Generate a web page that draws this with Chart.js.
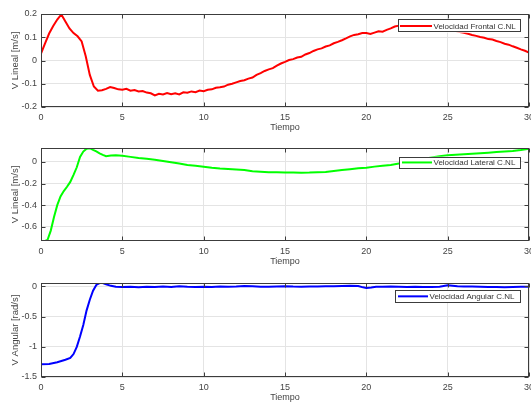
<!DOCTYPE html>
<html><head><meta charset="utf-8">
<script src="https://cdn.jsdelivr.net/npm/chart.js@4"></script>
<style>
html,body{margin:0;padding:0;background:#fff;overflow:hidden}
#wrap{position:relative;width:531px;height:405px;background:#fff}
canvas{position:absolute;left:0}
</style></head><body>
<div id="wrap">
<canvas id="c1" style="top:0px" width="531" height="135"></canvas>
<canvas id="c2" style="top:134px" width="531" height="135"></canvas>
<canvas id="c3" style="top:269px" width="531" height="136"></canvas>
</div>
<script>
const timeFrontal = [0,0.25,0.5,0.75,1,1.25,1.5,1.75,2,2.25,2.5,2.75,3,3.25,3.5,3.75,4,4.25,4.5,4.75,5,5.25,5.5,5.75,6,6.25,6.5,6.75,7,7.25,7.5,7.75,8,8.25,8.5,8.75,9,9.25,9.5,9.75,10,10.25,10.5,10.75,11,11.25,11.5,11.75,12,12.25,12.5,12.75,13,13.25,13.5,13.75,14,14.25,14.5,14.75,15,15.25,15.5,15.75,16,16.25,16.5,16.75,17,17.25,17.5,17.75,18,18.25,18.5,18.75,19,19.25,19.5,19.75,20,20.25,20.5,20.75,21,21.25,21.5,21.75,22,22.25,22.5,22.75,23,23.25,23.5,23.75,24,24.25,24.5,24.75,25,25.25,25.5,25.75,26,26.25,26.5,26.75,27,27.25,27.5,27.75,28,28.25,28.5,28.75,29,29.25,29.5,29.75,30];
const velFrontal = [0.030,0.074,0.116,0.148,0.176,0.198,0.168,0.138,0.118,0.104,0.082,0.018,-0.062,-0.112,-0.130,-0.128,-0.122,-0.114,-0.118,-0.124,-0.126,-0.122,-0.130,-0.127,-0.133,-0.131,-0.138,-0.141,-0.150,-0.143,-0.146,-0.140,-0.145,-0.141,-0.146,-0.137,-0.139,-0.133,-0.136,-0.129,-0.132,-0.126,-0.124,-0.117,-0.115,-0.112,-0.104,-0.100,-0.094,-0.088,-0.085,-0.078,-0.073,-0.062,-0.054,-0.045,-0.038,-0.033,-0.022,-0.013,-0.006,0.002,0.006,0.013,0.016,0.026,0.032,0.041,0.048,0.052,0.060,0.065,0.074,0.080,0.087,0.095,0.104,0.110,0.113,0.118,0.118,0.114,0.120,0.126,0.124,0.132,0.138,0.146,0.150,0.154,0.158,0.160,0.162,0.161,0.164,0.162,0.160,0.157,0.152,0.146,0.140,0.133,0.127,0.123,0.119,0.115,0.110,0.106,0.101,0.098,0.092,0.090,0.084,0.079,0.072,0.068,0.061,0.055,0.048,0.042,0.034];

const timeLateral = [0,0.25,0.4,0.6,0.8,1,1.2,1.4,1.6,1.8,2,2.2,2.4,2.6,2.8,3,3.2,3.4,3.6,3.8,4,4.3,4.6,5,5.5,6,6.5,7,7.5,8,8.5,9,9.5,10,10.5,11,11.5,12,12.5,13,13.5,14,14.5,15,15.5,16,16.5,17,17.5,18,18.5,19,19.5,20,20.5,21,21.5,22,22.5,23,23.5,24,24.5,25,25.5,26,26.5,27,27.5,28,28.5,29,29.5,30];
const velLateral = [-0.730,-0.730,-0.722,-0.635,-0.510,-0.400,-0.320,-0.270,-0.230,-0.185,-0.120,-0.050,0.045,0.095,0.122,0.126,0.110,0.096,0.078,0.064,0.052,0.058,0.060,0.056,0.046,0.035,0.028,0.020,0.008,-0.004,-0.016,-0.030,-0.036,-0.045,-0.055,-0.062,-0.066,-0.071,-0.076,-0.086,-0.092,-0.097,-0.097,-0.098,-0.099,-0.100,-0.099,-0.096,-0.093,-0.084,-0.076,-0.068,-0.060,-0.055,-0.044,-0.036,-0.028,-0.016,-0.005,0.012,0.026,0.040,0.052,0.060,0.066,0.070,0.075,0.080,0.085,0.090,0.095,0.101,0.110,0.122];

const timeAngular = [0,0.5,1,1.5,1.8,2,2.2,2.4,2.6,2.8,3,3.2,3.4,3.6,3.8,4,4.3,4.6,5,5.5,6,6.5,7,7.5,8,8.5,9,9.5,10,10.5,11,11.5,12,12.5,13,13.5,14,14.5,15,15.5,16,16.5,17,17.5,18,18.5,19,19.5,19.8,20,20.3,20.6,21,21.5,22,22.5,23,23.5,24,24.5,25,25.3,25.6,26,26.5,27,27.5,28,28.5,29,29.5,30];
const velAngular = [-1.290,-1.285,-1.255,-1.215,-1.185,-1.120,-1.000,-0.830,-0.640,-0.400,-0.220,-0.070,0.025,0.055,0.055,0.035,0.010,-0.005,-0.010,-0.004,-0.012,-0.006,-0.010,-0.003,-0.008,0.002,-0.006,-0.010,-0.004,-0.008,0.000,-0.006,-0.002,0.008,0.004,-0.004,-0.006,0.000,0.004,-0.002,-0.004,0.000,-0.002,0.004,0.002,0.006,0.010,0.006,-0.015,-0.025,-0.018,-0.006,-0.004,0.000,-0.004,-0.008,-0.006,-0.010,-0.008,-0.004,0.018,0.012,0.004,0.000,-0.002,-0.006,-0.010,-0.008,-0.012,-0.010,-0.006,-0.004];

const xTicks = [0,5,10,15,20,25,30];
const yTicksFrontal = [-0.2,-0.1,0,0.1,0.2];
const yTicksLateral = [-0.6,-0.4,-0.2,0];
const yTicksAngular = [-1.5,-1,-0.5,0];
const seriesLabels = ['Velocidad Frontal C.NL','Velocidad Lateral C.NL','Velocidad Angular C.NL'];
const yTitles = ['V Lineal [m/s]','V Lineal [m/s]','V Angular [rad/s]'];
const xTitle = 'Tiempo';

const FONT = 'Liberation Sans, Arial, sans-serif';
const TXT = '#444444';
const fmt = v => String(Math.round(v * 1000) / 1000);

const boxPlugin = {
  id: 'box',
  afterDatasetsDraw(chart) {
    const {ctx, chartArea: a, scales} = chart;
    ctx.save();
    ctx.strokeStyle = '#3c3c3c';
    ctx.lineWidth = 1;
    const L = Math.round(a.left) + 0.5, R = Math.round(a.right) - 0.5;
    const T = Math.round(a.top) + 0.5, B = Math.round(a.bottom) - 0.5;
    ctx.strokeRect(L, T, R - L, B - T);
    ctx.beginPath();
    const tl = 4;
    scales.x.ticks.forEach(t => {
      const px = Math.round(scales.x.getPixelForValue(t.value)) + 0.5;
      ctx.moveTo(px, B); ctx.lineTo(px, B - tl);
      ctx.moveTo(px, T); ctx.lineTo(px, T + tl);
    });
    scales.y.ticks.forEach(t => {
      const py = Math.round(scales.y.getPixelForValue(t.value)) + 0.5;
      ctx.moveTo(L, py); ctx.lineTo(L + tl, py);
      ctx.moveTo(R, py); ctx.lineTo(R - tl, py);
    });
    ctx.stroke();
    ctx.restore();
  }
};

const legendPlugin = {
  id: 'innerLegend',
  afterDraw(chart, args, opts) {
    const {ctx, chartArea: a} = chart;
    const ds = chart.data.datasets[0];
    const x0 = a.right - opts.right - opts.width, y0 = a.top + opts.top;
    ctx.save();
    ctx.fillStyle = '#ffffff';
    ctx.fillRect(x0, y0, opts.width, opts.height);
    ctx.strokeStyle = '#3c3c3c';
    ctx.lineWidth = 1;
    ctx.strokeRect(Math.round(x0) + 0.5, Math.round(y0) + 0.5, Math.round(opts.width) - 1, Math.round(opts.height) - 1);
    const cy = y0 + opts.height / 2;
    ctx.strokeStyle = ds.borderColor;
    ctx.lineWidth = 2;
    ctx.beginPath();
    ctx.moveTo(x0 + opts.lineStart, cy);
    ctx.lineTo(x0 + opts.lineStart + opts.lineLen, cy);
    ctx.stroke();
    ctx.fillStyle = '#333333';
    ctx.font = '8px ' + FONT;
    ctx.textBaseline = 'middle';
    ctx.textAlign = 'left';
    ctx.fillText(ds.label, x0 + opts.lineStart + opts.lineLen + 1.5, cy + 0.5);
    ctx.restore();
  }
};

function makeChart(id, t, v, label, color, yMin, yMax, yTicks, yTitle, leg) {
  return new Chart(document.getElementById(id), {
    type: 'line',
    data: {
      datasets: [{
        label: label,
        data: t.map((x, i) => ({x: x, y: v[i]})),
        borderColor: color,
        backgroundColor: color,
        borderWidth: 2,
        pointRadius: 0,
        tension: 0,
        fill: false
      }]
    },
    options: {
      responsive: false,
      animation: false,
      events: [],
      layout: {padding: {left: 0, right: 2, top: 14, bottom: 0}},
      plugins: {
        legend: {display: false},
        tooltip: {enabled: false},
        innerLegend: leg
      },
      scales: {
        x: {
          type: 'linear', min: 0, max: 30,
          afterBuildTicks: s => { s.ticks = xTicks.map(val => ({value: val})); },
          afterFit: s => { s.height = 28; s.paddingLeft = 0; s.paddingRight = 0; },
          grid: {color: '#e4e4e4', drawTicks: false, lineWidth: 1},
          border: {display: false},
          ticks: {padding: 5, color: TXT, font: {family: FONT, size: 9}, maxRotation: 0, autoSkip: false, callback: val => fmt(val)},
          title: {display: true, text: xTitle, color: TXT, font: {family: FONT, size: 9}, padding: {top: 0, bottom: 2}}
        },
        y: {
          min: yMin, max: yMax,
          afterBuildTicks: s => { s.ticks = yTicks.map(val => ({value: val})); },
          afterFit: s => { s.width = 41; s.paddingTop = 0; s.paddingBottom = 0; },
          grid: {color: '#e4e4e4', drawTicks: false, lineWidth: 1},
          border: {display: false},
          ticks: {padding: 4, color: TXT, font: {family: FONT, size: 9}, autoSkip: false, callback: val => fmt(val)},
          title: {display: true, text: yTitle, color: TXT, font: {family: FONT, size: 9.5}, padding: {top: 10, bottom: 0}}
        }
      }
    },
    plugins: [boxPlugin, legendPlugin]
  });
}

makeChart('c1', timeFrontal, velFrontal, seriesLabels[0], '#ff0000', -0.2, 0.2, yTicksFrontal, yTitles[0],
  {right: 8, top: 5.3, width: 123, height: 13.4, lineStart: 2, lineLen: 32});
makeChart('c2', timeLateral, velLateral, seriesLabels[1], '#00ff00', -0.731, 0.128, yTicksLateral, yTitles[1],
  {right: 8, top: 8.7, width: 122, height: 11.5, lineStart: 3, lineLen: 30});
makeChart('c3', timeAngular, velAngular, seriesLabels[2], '#0000ff', -1.5, 0.057, yTicksAngular, yTitles[2],
  {right: 8, top: 7, width: 126, height: 12.7, lineStart: 3, lineLen: 30});
</script>
</body></html>
